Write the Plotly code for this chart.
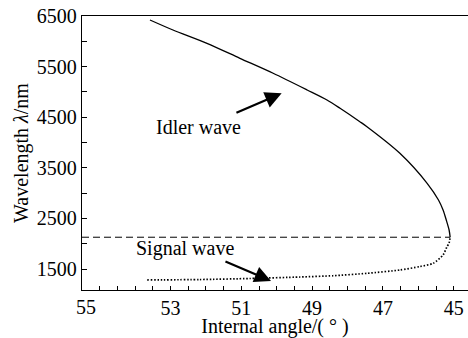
import plotly.graph_objects as go

# Idler wave (solid)
idler_angle = [53.58, 52.93, 51.97, 51.04, 50.10, 49.14, 48.58, 48.21, 47.65, 47.45,
               46.52, 45.75, 45.43, 45.30, 45.21, 45.13, 45.10]
idler_wl = [6421, 6223, 5960, 5664, 5368, 5038, 4840, 4676, 4411, 4312,
            3787, 3194, 2864, 2666, 2468, 2271, 2128]

# Signal wave (dotted)
signal_angle = [53.66, 52.17, 50.75, 49.34, 48.41, 47.45, 46.52, 45.95, 45.58,
                45.30, 45.19, 45.13, 45.10]
signal_wl = [1283, 1292, 1312, 1342, 1367, 1414, 1480, 1549, 1612,
             1777, 1939, 2014, 2128]

# Degenerate wavelength (dashed line)
degenerate_angle = [55.5, 45.10]
degenerate_wl = [2128, 2128]

x_tick_vals = [45, 47, 49, 51, 53, 55]
x_tick_text = ["45", "47", "49", "51", "53", ""]
y_tick_vals = [1500, 2500, 3500, 4500, 5500, 6500]
y_tick_text = ["1500", "2500", "3500", "4500", "5500", "6500"]

FONT = "Times New Roman"

fig = go.Figure()
fig.add_trace(go.Scatter(x=degenerate_angle, y=degenerate_wl, mode="lines",
                         line=dict(color="black", width=1, dash="7px,4px"),
                         showlegend=False, hoverinfo="skip"))
fig.add_trace(go.Scatter(x=idler_angle, y=idler_wl, mode="lines",
                         line=dict(color="black", width=1.3, shape="spline", smoothing=0.8),
                         showlegend=False))
fig.add_trace(go.Scatter(x=signal_angle, y=signal_wl, mode="lines",
                         line=dict(color="black", width=1.7, dash="1.5px,1.8px",
                                   shape="spline", smoothing=0.6),
                         showlegend=False))

fig.update_layout(
    width=468, height=338,
    margin=dict(l=82, r=0, t=16, b=48),
    paper_bgcolor="white", plot_bgcolor="white",
    font=dict(family=FONT, size=20, color="black"),
    xaxis=dict(
        range=[55.5, 44.596], showgrid=False, zeroline=False, automargin=False,
        showline=True, linecolor="black", linewidth=1.3, mirror=True,
        tickmode="array", tickvals=x_tick_vals, ticktext=x_tick_text,
        ticks="inside", ticklen=4, tickwidth=1, tickcolor="black",
        minor=dict(tickmode="linear", tick0=45, dtick=0.5, ticks="inside",
                   ticklen=4, tickwidth=1, tickcolor="black"),
        tickfont=dict(family=FONT, size=20),
        ticklabelstandoff=0,
        title=dict(text="Internal angle/( ° )", font=dict(family=FONT, size=20), standoff=7),
    ),
    yaxis=dict(
        range=[1085, 6500], showgrid=False, zeroline=False, automargin=False,
        showline=True, linecolor="black", linewidth=1.3,
        tickmode="array", tickvals=y_tick_vals, ticktext=y_tick_text,
        ticks="inside", ticklen=5, tickwidth=1, tickcolor="black",
        minor=dict(tickmode="linear", tick0=1000, dtick=500, ticks="inside",
                   ticklen=5, tickwidth=1, tickcolor="black"),
        tickfont=dict(family=FONT, size=20),
        title=dict(text="Wavelength <i>λ</i>/nm", font=dict(family=FONT, size=20), standoff=2),
    ),
)

# misplaced "55" label as in the original
fig.add_annotation(x=0.0104, xref="paper", y=-0.062, yref="paper",
                   text="55", showarrow=False, xanchor="center", yanchor="middle",
                   font=dict(family=FONT, size=20))

fig.add_annotation(x=52.22, y=4306, text="Idler wave", showarrow=False,
                   xanchor="center", yanchor="middle", font=dict(family=FONT, size=20))
fig.add_annotation(x=52.59, y=1915, text="Signal wave", showarrow=False,
                   xanchor="center", yanchor="middle", font=dict(family=FONT, size=20))

fig.add_annotation(x=49.86, y=4972, ax=51.18, ay=4577, axref="x", ayref="y",
                   xref="x", yref="y", text="", showarrow=True,
                   arrowhead=2, arrowsize=1.5, arrowwidth=2.2, arrowcolor="black")
fig.add_annotation(x=50.16, y=1263, ax=51.49, ay=1662, axref="x", ayref="y",
                   xref="x", yref="y", text="", showarrow=True,
                   arrowhead=2, arrowsize=1.5, arrowwidth=2.2, arrowcolor="black")

fig.write_html("out.html", config={"displayModeBar": False},
               post_script="document.body.style.margin='0px';")
